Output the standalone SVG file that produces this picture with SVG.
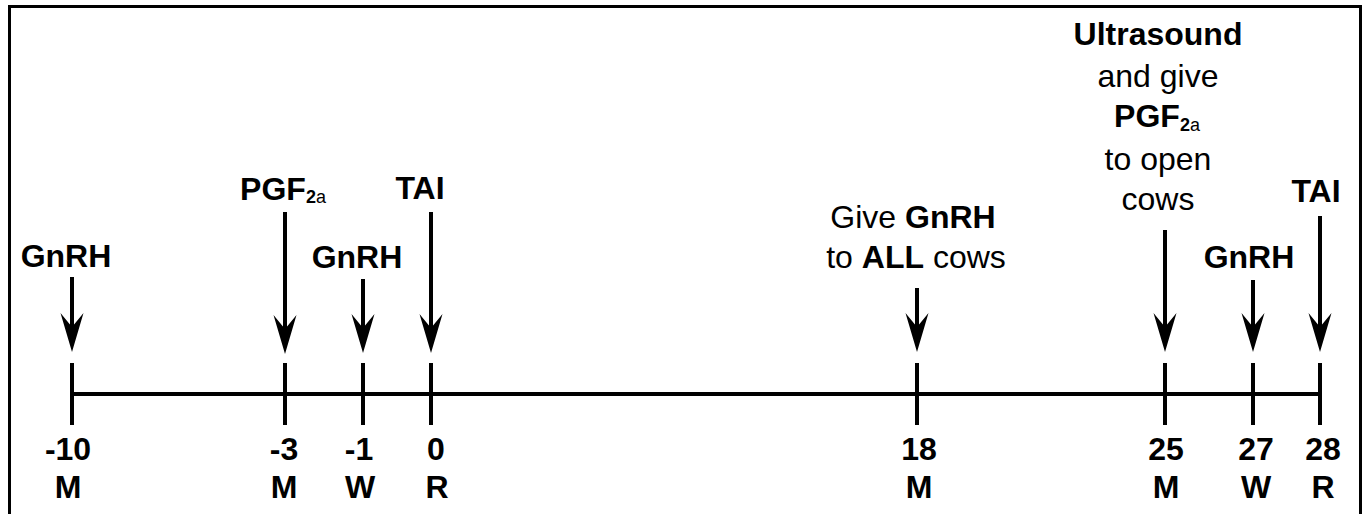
<svg xmlns="http://www.w3.org/2000/svg" width="1366" height="514" viewBox="0 0 1366 514">
<style>
  text { font-family: "Liberation Sans", Arial, sans-serif; font-size: 32px; fill: #000; text-anchor: middle; }
  .b { font-weight: bold; }
  .r { font-weight: normal; }
  .sub { font-size: 18px; }
  .shaft { stroke: #000; stroke-width: 4; fill: none; }
  .tick { stroke: #000; stroke-width: 4; fill: none; }
</style>
<defs>
  <path id="head" d="M0 0 L-11.5 -39 L0 -25 L11.5 -39 Z" fill="#000"/>
</defs>
<rect x="9.5" y="6.5" width="1351" height="530" fill="#fff" stroke="#000" stroke-width="3"/>

<g id="timeline">
  <line class="tick" x1="72" y1="394" x2="1320" y2="394"/>
</g>

<g id="connectors">
  <line class="shaft" x1="72" y1="277" x2="72" y2="330"/><use href="#head" x="72" y="352"/>
  <line class="shaft" x1="285" y1="212" x2="285" y2="330"/><use href="#head" x="285" y="354"/>
  <line class="shaft" x1="363" y1="279" x2="363" y2="330"/><use href="#head" x="363" y="353"/>
  <line class="shaft" x1="431" y1="212" x2="431" y2="330"/><use href="#head" x="431" y="353"/>
  <line class="shaft" x1="917" y1="288" x2="917" y2="330"/><use href="#head" x="917" y="352"/>
  <line class="shaft" x1="1165" y1="230" x2="1165" y2="330"/><use href="#head" x="1165" y="352"/>
  <line class="shaft" x1="1253" y1="280" x2="1253" y2="330"/><use href="#head" x="1253" y="352"/>
  <line class="shaft" x1="1320" y1="216" x2="1320" y2="330"/><use href="#head" x="1320" y="352"/>
</g>

<g id="day-m10">
  <text class="b" x="66" y="267">GnRH</text>
  <line class="tick" x1="72" y1="363" x2="72" y2="425"/>
  <text class="b" x="68" y="460">-10</text>
  <text class="b" x="68" y="498">M</text>
</g>
<g id="day-m3">
  <text class="b" x="283" y="200">PGF<tspan class="sub" dy="3">2</tspan><tspan class="sub r">a</tspan></text>
  <line class="tick" x1="285" y1="363" x2="285" y2="425"/>
  <text class="b" x="284" y="460">-3</text>
  <text class="b" x="284" y="498">M</text>
</g>
<g id="day-m1">
  <text class="b" x="357" y="268">GnRH</text>
  <line class="tick" x1="363" y1="363" x2="363" y2="425"/>
  <text class="b" x="359" y="460">-1</text>
  <text class="b" x="360" y="498">W</text>
</g>
<g id="day-0">
  <text class="b" x="420" y="199">TAI</text>
  <line class="tick" x1="431" y1="363" x2="431" y2="425"/>
  <text class="b" x="436" y="460">0</text>
  <text class="b" x="437" y="498">R</text>
</g>
<g id="day-18">
  <text x="913" y="228"><tspan class="r">Give </tspan><tspan class="b">GnRH</tspan></text>
  <text x="916" y="268"><tspan class="r">to </tspan><tspan class="b">ALL</tspan><tspan class="r"> cows</tspan></text>
  <line class="tick" x1="917" y1="363" x2="917" y2="425"/>
  <text class="b" x="919" y="460">18</text>
  <text class="b" x="919" y="498">M</text>
</g>
<g id="day-25">
  <text class="b" x="1158" y="45">Ultrasound</text>
  <text class="r" x="1158" y="87">and give</text>
  <text class="b" x="1157" y="127">PGF<tspan class="sub" dy="4">2</tspan><tspan class="sub r">a</tspan></text>
  <text class="r" x="1158" y="170">to open</text>
  <text class="r" x="1158" y="210">cows</text>
  <line class="tick" x1="1165" y1="363" x2="1165" y2="425"/>
  <text class="b" x="1166" y="460">25</text>
  <text class="b" x="1166" y="498">M</text>
</g>
<g id="day-27">
  <text class="b" x="1249" y="268">GnRH</text>
  <line class="tick" x1="1253" y1="363" x2="1253" y2="425"/>
  <text class="b" x="1256" y="460">27</text>
  <text class="b" x="1256" y="498">W</text>
</g>
<g id="day-28">
  <text class="b" x="1316" y="202">TAI</text>
  <line class="tick" x1="1320" y1="363" x2="1320" y2="425"/>
  <text class="b" x="1323" y="460">28</text>
  <text class="b" x="1323" y="498">R</text>
</g>
</svg>
